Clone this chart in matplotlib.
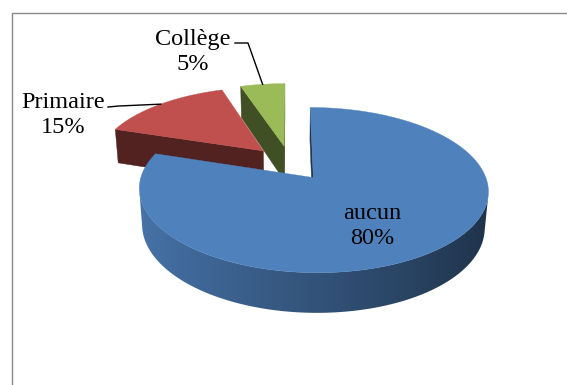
import numpy as np
import matplotlib.pyplot as plt
import matplotlib.colors as mcolors
from matplotlib.patches import Polygon

plt.rcParams['font.family'] = ['Liberation Serif', 'DejaVu Serif']

# data
categories = ['aucun', 'Primaire', 'Collège']
values = [80, 15, 5]
colors = ['#4f81bd', '#c0504d', '#9bbb59']

# label layout (pixels): text centre, leader start, leader elbow
label_pos = {'aucun': (372, 226), 'Primaire': (63, 115), 'Collège': (193, 52)}
leader = {'Primaire': [(108, 107), (119, 106)], 'Collège': [(235, 43), (248, 43)]}

# projection of the 3d pie (pixel units)
CX, CY = 290, 163
F = 1015
DIST = 6.05
SIN_A = 0.455
COS_A = np.sqrt(1 - SIN_A ** 2)
HEIGHT = 0.24
EXPLODE = 0.23
cam = np.array([0.0, DIST * SIN_A, -DIST * COS_A])


def project(x, y, z):
    yc = y * COS_A + z * SIN_A
    zc = DIST + z * COS_A - y * SIN_A
    return CX + F * x / zc, CY - F * yc / zc


def shade(color, k):
    r, g, b = mcolors.to_rgb(color)
    return (r * k, g * k, b * k)


def wall_shade(t):
    return 0.64 - 0.26 * np.cos(t)


def poly(ax, pts, color, z):
    xs, ys = zip(*[project(*p) for p in pts])
    ax.fill(xs, ys, facecolor=color, edgecolor=color, lw=0.3, zorder=z)


fig = plt.figure(figsize=(5.67, 3.85), dpi=100)
ax = fig.add_axes([0, 0, 1, 1])

# frame of the chart area
ax.plot([11.5, 11.5, 567], [385, 12.5, 12.5], color='#8a8a8a', lw=1.0)

total = float(sum(values))
cum = np.concatenate([[0], np.cumsum(values)]) / total
slices = []
for i, cat in enumerate(categories):
    t_start = np.radians(90 - 360 * cum[i])
    t_end = np.radians(90 - 360 * cum[i + 1])
    mid = (t_start + t_end) / 2
    c = np.array([EXPLODE * np.cos(mid), 0.0, EXPLODE * np.sin(mid)])
    slices.append((i, cat, t_end, t_start, mid, c))

# far slices first
slices.sort(key=lambda s: -np.linalg.norm(cam - s[5]))

z = 1
for i, cat, t0, t1, mid, c in slices:
    col = colors[i]
    th = np.linspace(t0, t1, 600)

    # outer wall: the part that faces the camera, filled with a gradient
    m = (th[:-1] + th[1:]) / 2
    vis = []
    for t in m:
        n = np.array([np.cos(t), 0, np.sin(t)])
        p = c + np.array([np.cos(t), -HEIGHT / 2, np.sin(t)])
        vis.append(np.dot(n, cam - p) > 0)
    vis = np.array(vis)
    if vis.any():
        tv = m[vis]
        topx, topy = project(c[0] + np.cos(tv), 0 * tv, c[2] + np.sin(tv))
        botx, boty = project(c[0] + np.cos(tv), 0 * tv - HEIGHT, c[2] + np.sin(tv))
        xy = np.column_stack([np.concatenate([topx, botx[::-1]]),
                              np.concatenate([topy, boty[::-1]])])
        patch = Polygon(xy, closed=True, facecolor='none', edgecolor='none')
        ax.add_patch(patch)
        order = np.argsort(topx)
        gx = np.linspace(xy[:, 0].min(), xy[:, 0].max(), 400)
        gt = np.interp(gx, topx[order], tv[order])
        grad = np.array([shade(col, wall_shade(t)) for t in gt])[None, :, :]
        im = ax.imshow(grad, extent=[gx[0], gx[-1], xy[:, 1].max(), xy[:, 1].min()],
                       aspect='auto', interpolation='bilinear', zorder=z)
        im.set_clip_path(patch)
        z += 1

    # radial cut faces
    faces = []
    for t, sgn in ((t1, 1), (t0, -1)):
        n = np.array([np.cos(t + sgn * np.pi / 2), 0, np.sin(t + sgn * np.pi / 2)])
        p = c + np.array([np.cos(t) / 2, -HEIGHT / 2, np.sin(t) / 2])
        if np.dot(n, cam - p) > 0:
            pts = [c, c + [np.cos(t), 0, np.sin(t)], c + [np.cos(t), -HEIGHT, np.sin(t)], c + [0, -HEIGHT, 0]]
            faces.append((np.linalg.norm(cam - p), pts, shade(col, 0.42)))
    faces.sort(key=lambda f: -f[0])
    for _, pts, fc in faces:
        poly(ax, pts, fc, z)
        z += 1

    top = [c] + [c + [np.cos(t), 0, np.sin(t)] for t in th]
    poly(ax, top, col, z)
    z += 1

# labels
for i, cat in enumerate(categories):
    tx, ty = label_pos[cat]
    pct = 100 * values[i] / total
    ax.text(tx, ty, f'{cat}\n{pct:.0f}%', ha='center', va='center', fontsize=17.5,
            linespacing=1.2, color='black', zorder=200)
    if cat in leader:
        t_start = np.radians(90 - 360 * cum[i])
        t_end = np.radians(90 - 360 * cum[i + 1])
        mid = (t_start + t_end) / 2
        c = np.array([EXPLODE * np.cos(mid), 0.0, EXPLODE * np.sin(mid)])
        ex, ey = project(*(c + [np.cos(mid), 0, np.sin(mid)]))
        xs = [leader[cat][0][0], leader[cat][1][0], ex]
        ys = [leader[cat][0][1], leader[cat][1][1], ey]
        ax.plot(xs, ys, color='black', lw=1.0, zorder=201)

ax.set_xlim(0, 567)
ax.set_ylim(385, 0)
ax.axis('off')

fig.savefig('out.png', dpi=100)
